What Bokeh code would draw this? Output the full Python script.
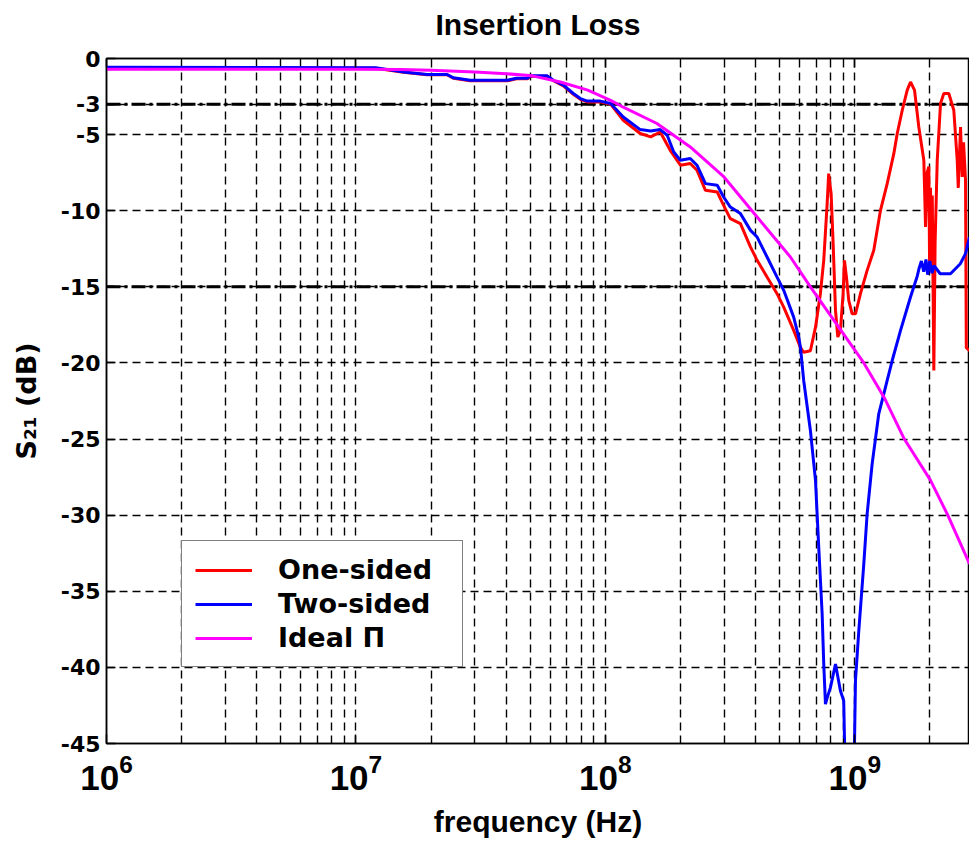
from bokeh.plotting import figure
from bokeh.models import (Range1d, FixedTicker, Span, Legend, LegendItem, LogTickFormatter,
                          CustomJSTickFormatter, LogAxis)
from bokeh.embed import file_html
from bokeh.resources import INLINE

# ---------------- data ----------------
title_text = "Insertion Loss"
x_label = "frequency (Hz)"
y_label = "S\u2082\u2081 (dB)"
series_names = ["One-sided", "Two-sided", "Ideal \u03a0"]

one_f = [1e6, 1.2e7, 1.55e7, 1.93e7, 2.32e7, 2.46e7, 2.87e7, 4.05e7, 4.4e7, 4.87e7,
         5.0e7, 5.85e7, 6.19e7, 6.79e7, 7.44e7, 7.94e7, 8.47e7, 9.55e7, 1.05e8, 1.18e8,
         1.38e8, 1.52e8, 1.66e8, 1.82e8, 2.0e8, 2.19e8, 2.33e8, 2.52e8, 2.81e8, 2.98e8,
         3.17e8, 3.48e8, 3.82e8, 4.06e8, 4.45e8, 4.88e8, 5.19e8, 5.69e8, 6.06e8, 6.24e8,
         6.64e8, 6.96e8, 7.28e8, 7.51e8, 7.75e8, 7.86e8, 8.04e8, 8.19e8, 8.37e8, 8.55e8,
         8.76e8, 8.98e8, 9.09e8, 9.26e8, 9.46e8, 9.76e8, 1.007e9, 1.054e9, 1.121e9, 1.192e9,
         1.268e9, 1.349e9, 1.434e9, 1.48e9, 1.55e9, 1.623e9, 1.673e9, 1.736e9, 1.806e9, 1.892e9,
         1.922e9, 1.95e9, 1.981e9, 1.995e9, 2.012e9, 2.03e9, 2.045e9, 2.075e9, 2.1e9, 2.141e9,
         2.207e9, 2.275e9, 2.383e9, 2.495e9, 2.575e9, 2.6e9, 2.655e9, 2.697e9, 2.73e9, 2.78e9,
         2.8e9, 2.885e9]
one_db = [-0.62, -0.64, -0.9, -1.07, -1.07, -1.3, -1.46, -1.46, -1.33, -1.33,
          -1.17, -1.17, -1.46, -1.8, -2.35, -2.68, -2.85, -2.85, -3.0, -4.06,
          -4.93, -5.15, -4.83, -6.03, -7.01, -6.9, -7.34, -8.66, -8.77, -9.65,
          -10.52, -10.85, -12.39, -13.26, -14.36, -15.45, -16.33, -17.86, -19.0, -19.3,
          -19.2, -17.65, -15.45, -13.26, -9.53, -7.56, -8.88, -12.16, -16.55, -18.3,
          -17.86, -15.45, -13.26, -14.36, -15.89, -16.77, -16.77, -15.45, -13.92, -12.6,
          -9.97, -8.22, -6.25, -4.93, -3.4, -2.08, -1.54, -2.08, -4.5, -6.69,
          -11.07, -7.5, -7.1, -13.5, -8.5, -14.0, -9.0, -20.5, -12.0, -6.69,
          -2.96, -2.3, -2.3, -3.4, -6.69, -8.5, -4.5, -7.78, -5.5, -8.0,
          -19.0, -19.2]

two_f = [1e6, 1.2e7, 1.55e7, 1.93e7, 2.32e7, 2.46e7, 2.87e7, 4.05e7, 4.4e7, 4.87e7,
         5.0e7, 5.85e7, 6.19e7, 6.79e7, 7.44e7, 7.94e7, 8.47e7, 9.55e7, 1.05e8, 1.18e8,
         1.38e8, 1.52e8, 1.66e8, 1.77e8, 1.88e8, 2.0e8, 2.19e8, 2.33e8, 2.52e8, 2.81e8,
         2.98e8, 3.17e8, 3.48e8, 3.82e8, 4.06e8, 4.45e8, 4.88e8, 5.19e8, 5.69e8, 5.96e8,
         6.06e8, 6.24e8, 6.64e8, 6.96e8, 7.17e8, 7.4e8, 7.51e8, 7.63e8, 7.75e8, 7.99e8,
         8.37e8, 8.76e8, 9.03e8, 9.18e8, 9.91e8, 1.0065e9, 1.038e9, 1.087e9, 1.121e9, 1.174e9,
         1.248e9, 1.349e9, 1.413e9, 1.526e9, 1.673e9, 1.78e9, 1.81e9, 1.85e9, 1.89e9, 1.93e9,
         1.96e9, 2.0e9, 2.04e9, 2.08e9, 2.2e9, 2.42e9, 2.65e9, 2.78e9, 2.885e9]
two_db = [-0.58, -0.6, -0.88, -1.05, -1.05, -1.27, -1.43, -1.43, -1.3, -1.3,
          -1.14, -1.14, -1.43, -1.75, -2.3, -2.63, -2.8, -2.8, -2.96, -3.84,
          -4.67, -4.76, -4.67, -5.04, -6.14, -6.69, -6.57, -7.01, -8.22, -8.33,
          -9.1, -9.76, -10.19, -11.29, -11.73, -13.04, -14.36, -15.23, -16.99, -18.3,
          -19.0, -21.15, -24.44, -27.73, -32.1, -36.49, -39.78, -42.41, -42.0, -41.31,
          -39.78, -41.53, -42.19, -48.0, -48.0, -40.87, -37.59, -33.2, -29.92, -26.63,
          -23.34, -21.15, -19.84, -17.86, -15.67, -14.3, -13.8, -13.3, -14.0, -13.2,
          -14.2, -13.3, -14.1, -13.6, -14.14, -14.14, -13.48, -12.82, -11.73]

ideal_f = [1e6, 1e7, 1.5e7, 2e7, 3e7, 4e7, 5.1e7, 6.6e7, 8.5e7, 1.05e8, 1.18e8,
           1.61e8, 2.19e8, 2.99e8, 4.06e8, 5.52e8, 6.64e8, 1.087e9, 1.31e9, 1.58e9,
           2.01e9, 2.36e9, 2.885e9]
ideal_db = [-0.70, -0.70, -0.72, -0.78, -0.88, -1.0, -1.14, -1.54, -2.08, -2.75, -3.2,
            -4.27, -5.81, -7.78, -10.41, -13.04, -15.0, -20.0, -22.25, -25.0,
            -27.7, -30.0, -33.2]

y_ticks = [0, -3, -5, -10, -15, -20, -25, -30, -35, -40, -45]
x_major = [1e6, 1e7, 1e8, 1e9]
x_minor = [k * 10 ** n for n in range(6, 10) for k in range(2, 10)]
ref_levels = [-3, -15]
x_min, x_max = 1e6, 2.884e9
y_min, y_max = -45, 0

# ---------------- figure ----------------
p = figure(width=969, height=841, x_axis_type="log",
           x_range=Range1d(x_min, x_max), y_range=Range1d(y_min, y_max),
           output_backend="svg", toolbar_location=None,
           min_border_left=106, min_border_right=0, min_border_top=58, min_border_bottom=98,
           background_fill_color="white", border_fill_color="white")

# the built-in title slot stays empty; the title text is carried by the top axis
p.title.text = ""
p.title.text_font_size = "1px"
p.title.standoff = 0

p.outline_line_color = "black"
p.outline_line_width = 1.5

# top axis: inward ticks (as in the original) + the chart title as its label
top_axis = LogAxis(ticker=FixedTicker(ticks=x_major, minor_ticks=x_minor),
                   formatter=CustomJSTickFormatter(code="return '';"),
                   major_label_standoff=0, major_label_text_font_size="1px",
                   major_label_text_color=None,
                   axis_line_color="black", axis_line_width=1.5,
                   major_tick_in=9, major_tick_out=0, major_tick_line_width=1.5,
                   major_tick_line_color="black",
                   minor_tick_in=5, minor_tick_out=0, minor_tick_line_color="black",
                   axis_label=title_text, axis_label_standoff=18,
                   axis_label_text_font="Liberation Sans",
                   axis_label_text_font_style="bold",
                   axis_label_text_font_size="30px", axis_label_text_color="black")
p.add_layout(top_axis, "above")

# grids
p.xgrid.ticker = FixedTicker(ticks=x_major, minor_ticks=x_minor)
p.xgrid.grid_line_color = "black"
p.xgrid.grid_line_dash = "8 5"
p.xgrid.grid_line_width = 1.4
p.xgrid.minor_grid_line_color = "black"
p.xgrid.minor_grid_line_dash = "8 5"
p.xgrid.minor_grid_line_width = 1.4
p.ygrid.ticker = FixedTicker(ticks=y_ticks)
p.ygrid.grid_line_color = "black"
p.ygrid.grid_line_dash = "8 5"
p.ygrid.grid_line_width = 1.4

# axes
xa = p.below[0]
ya = p.left[0]
xa.ticker = FixedTicker(ticks=x_major, minor_ticks=x_minor)
xa.formatter = LogTickFormatter()
ya.ticker = FixedTicker(ticks=y_ticks)
ya.formatter = CustomJSTickFormatter(code="return tick.toFixed(0);")
for ax in (xa, ya):
    ax.axis_line_color = "black"
    ax.axis_line_width = 1.5
    ax.major_tick_line_color = "black"
    ax.major_tick_line_width = 1.5
    ax.major_tick_in = 9
    ax.major_tick_out = 0
    ax.major_label_text_color = "black"
    ax.axis_label_text_color = "black"
    ax.axis_label_text_font_style = "bold"
xa.minor_tick_line_color = "black"
xa.minor_tick_in = 5
xa.minor_tick_out = 0
ya.minor_tick_line_color = None

xa.major_label_text_font = "Liberation Sans"
xa.major_label_text_font_style = "bold"
xa.major_label_text_font_size = "35px"
xa.major_label_standoff = 10
xa.axis_label = x_label
xa.axis_label_text_font = "Liberation Sans"
xa.axis_label_text_font_size = "30px"
xa.axis_label_standoff = 12

ya.major_label_text_font = "DejaVu Sans"
ya.major_label_text_font_style = "bold"
ya.major_label_text_font_size = "22px"
ya.major_label_standoff = 6
ya.axis_label = y_label
ya.axis_label_text_font = "DejaVu Sans"
ya.axis_label_text_font_size = "27px"
ya.axis_label_standoff = 16

# reference levels (-3 dB, -15 dB)
for lvl in ref_levels:
    p.add_layout(Span(location=lvl, dimension="width", line_color="black",
                      line_width=3, line_dash="14 4 3 4", level="underlay"))

# curves
n1 = min(len(one_f), len(one_db))
n2 = min(len(two_f), len(two_db))
n3 = min(len(ideal_f), len(ideal_db))
r1 = p.line(one_f[:n1], one_db[:n1], line_color="#ff0000", line_width=3)
r2 = p.line(two_f[:n2], two_db[:n2], line_color="#0000ff", line_width=3)
r3 = p.line(ideal_f[:n3], ideal_db[:n3], line_color="#ff00ff", line_width=3)

legend = Legend(items=[LegendItem(label=series_names[0], renderers=[r1]),
                       LegendItem(label=series_names[1], renderers=[r2]),
                       LegendItem(label=series_names[2], renderers=[r3])],
                location=(75, 76), margin=0, padding=13, spacing=3,
                glyph_width=57, glyph_height=30, label_height=30, label_width=171,
                label_standoff=26,
                label_text_font="DejaVu Sans", label_text_font_style="bold",
                label_text_font_size="27px", label_text_color="black",
                border_line_color="black", border_line_width=1.5,
                background_fill_color="white", background_fill_alpha=1.0)
p.add_layout(legend)

open("out.html", "w").write(file_html(p, INLINE))
